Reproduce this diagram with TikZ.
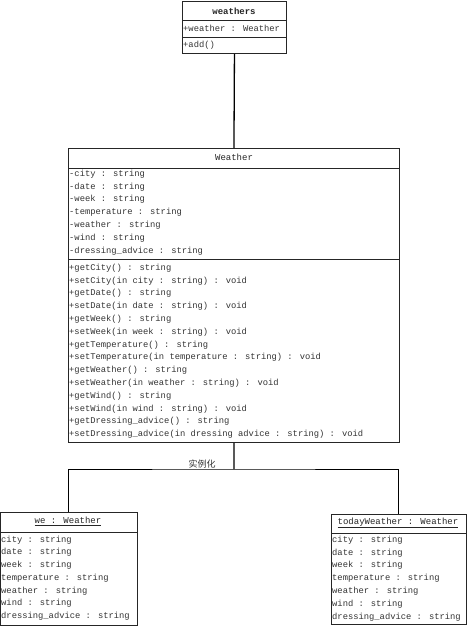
\documentclass[tikz,border=0pt]{standalone}
\usepackage{fontspec}
\newfontfamily\umlfont{Liberation Mono}
\newfontfamily\cjk{Noto Sans CJK SC}
\usepackage{tikz}
\usetikzlibrary{calc}

\tikzset{
  classbox/.style={draw=black!85, line width=0.9pt, anchor=north west, inner sep=0pt},
  member/.style={anchor=west, inner sep=0pt, text=black!80, font=\umlfont\fontsize{8.8}{10}\selectfont},
  title/.style={inner sep=0pt, text=black!85, font=\umlfont\fontsize{9}{10}\selectfont},
  sep/.style={draw=black!85, line width=0.8pt},
  link/.style={draw=black, line width=1pt}
}

\begin{document}
\begin{tikzpicture}[x=1pt, y=-1pt]

    % page frame
    \useasboundingbox (0,0) rectangle (468,626);

    % 1. the collection class
    \node[classbox, minimum width=104, minimum height=52] (weathers) at (182,1) {};
    \draw[sep] (182,20) -- (286,20);
    \draw[sep] (182,37) -- (286,37);
    \node[title, font=\umlfont\bfseries\fontsize{9}{10}\selectfont] (weathersname) at (234,11) {weathers};
    \node[member] (wsattr) at (183,28) {+weather : Weather};
    \node[member] (wsop) at (183,45) {+add()};

    % 2. the Weather class
    \node[classbox, minimum width=331, minimum height=294] (Weather) at (68,148) {};
    \draw[sep] (68,168) -- (399,168);
    \draw[sep] (68,259) -- (399,259);
    \node[title] (Weathername) at (234,157) {Weather};
    \foreach \t [count=\i] in {-city : string, -date : string, -week : string,
        -temperature : string, -weather : string, -wind : string,
        -dressing\_advice : string}
      \node[member] (wa\i) at (69,{174+(\i-1)*12.8}) {\t};
    \foreach \t [count=\i] in {+getCity() : string, +setCity(in city : string) : void,
        +getDate() : string, +setDate(in date : string) : void,
        +getWeek() : string, +setWeek(in week : string) : void,
        +getTemperature() : string, +setTemperature(in temperature : string) : void,
        +getWeather() : string, +setWeather(in weather : string) : void,
        +getWind() : string, +setWind(in wind : string) : void,
        +getDressing\_advice() : string,
        +setDressing\_advice(in dressing advice : string) : void}
      \node[member] (wm\i) at (69,{268+(\i-1)*12.8}) {\t};

    % 3. the two objects
    \node[classbox, minimum width=137, minimum height=113] (we) at (0,512) {};
    \draw[sep] (0,532) -- (137,532);
    \node[title] (wename) at (68,521) {\underline{we : Weather}};
    \foreach \t [count=\i] in {city : string, date : string, week : string,
        temperature : string, weather : string, wind : string,
        dressing\_advice : string}
      \node[member] (wo\i) at (1,{540+(\i-1)*12.7}) {\t};

    \node[classbox, minimum width=135, minimum height=110] (today) at (331,514) {};
    \draw[sep] (331,533) -- (466,533);
    \node[title] (todayname) at (398,523) {\underline{todayWeather : Weather}};
    \foreach \t [count=\i] in {city : string, date : string, week : string,
        temperature : string, weather : string, wind : string,
        dressing\_advice : string}
      \node[member] (to\i) at (332,{540+(\i-1)*12.8}) {\t};

    % 4. connectors
    \coordinate (fork) at (234,469);
    \draw[link, line width=1.3pt] (weathers.south) -- (Weather.north);
    \draw[link, line width=1.3pt] (Weather.south) -- (fork);
    \draw[link] (we.north) |- (fork) -| (today.north);
    \node[inner sep=0pt, text=black!80, font=\cjk\fontsize{9}{10}\selectfont] (inst) at (202,464) {实例化};

\end{tikzpicture}
\end{document}
